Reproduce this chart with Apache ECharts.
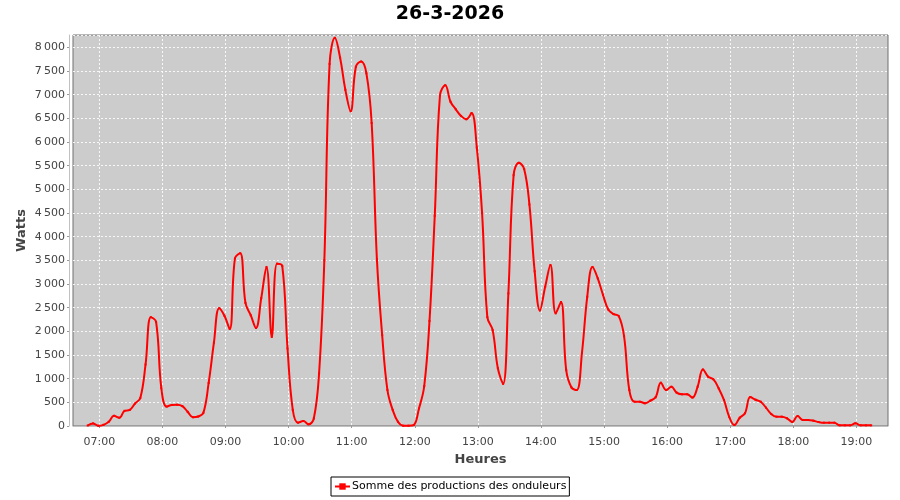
<!DOCTYPE html>
<html><head><meta charset="utf-8">
<script src="https://cdn.jsdelivr.net/npm/echarts@6/dist/echarts.min.js"></script>
<style>html,body{margin:0;padding:0;background:#fff}#c{width:900px;height:500px}</style>
</head><body><div id="c"></div>
<script>
const chartTitle = '26-3-2026';
const seriesName = 'Somme des productions des onduleurs';
const xName = 'Heures';
const yName = 'Watts';
const times = [
'06:49','06:54','06:59','07:04','07:09','07:14','07:19','07:24','07:29','07:34','07:39','07:44','07:49','07:54','07:59',
'08:04','08:09','08:14','08:19','08:24','08:29','08:34','08:39','08:44','08:49','08:54','08:59',
'09:04','09:09','09:14','09:19','09:24','09:29','09:34','09:39','09:44','09:49','09:54','09:59',
'10:04','10:09','10:14','10:19','10:24','10:29','10:34','10:39','10:44','10:49','10:54','10:59',
'11:04','11:09','11:14','11:19','11:24','11:29','11:34','11:39','11:44','11:49','11:54','11:59',
'12:04','12:09','12:14','12:19','12:24','12:29','12:34','12:39','12:44','12:49','12:54','12:59',
'13:04','13:09','13:14','13:19','13:24','13:29','13:34','13:39','13:44','13:49','13:54','13:59',
'14:04','14:09','14:14','14:19','14:24','14:29','14:34','14:39','14:44','14:49','14:54','14:59',
'15:04','15:09','15:14','15:19','15:24','15:29','15:34','15:39','15:44','15:49','15:54','15:59',
'16:04','16:09','16:14','16:19','16:24','16:29','16:34','16:39','16:44','16:49','16:54','16:59',
'17:04','17:09','17:14','17:19','17:24','17:29','17:34','17:39','17:44','17:49','17:54','17:59',
'18:04','18:09','18:14','18:19','18:24','18:29','18:34','18:39','18:44','18:49','18:54','18:59',
'19:04','19:09','19:14'
];
const watts = [
10,55,5,25,90,215,175,320,340,475,590,1300,2300,2200,800,
410,445,450,420,300,185,200,280,910,1760,2490,2330,
2050,3540,3650,2600,2340,2070,2700,3360,1880,3430,3380,1640,
340,70,105,35,160,1110,3500,7650,8200,7780,7100,6650,
7590,7700,7450,6400,3520,1920,760,340,90,7,7,20,
370,845,2220,4440,6990,7200,6850,6690,6550,6480,6610,5880,
4500,2300,2030,1220,890,2800,5300,5560,5430,4680,3270,2440,
2940,3400,2380,2620,1180,815,760,1550,2730,3360,3120,2770,
2460,2365,2320,1900,760,513,513,480,535,605,915,760,
830,705,670,670,600,830,1195,1040,985,795,550,195,
20,175,270,610,555,513,387,253,197,197,162,84,
211,127,127,113,84,70,70,70,14,14,14,56,
14,14,14
];
const hourTicks = ['07:00','08:00','09:00','10:00','11:00','12:00','13:00','14:00','15:00','16:00','17:00','18:00','19:00'];
const xStart = '06:35', xEnd = '19:30';

const toMin = s => +s.slice(0, 2) * 60 + +s.slice(3, 5);
const fmtHM = v => { const h = Math.floor(v / 60), m = Math.round(v - h * 60); return String(h).padStart(2, '0') + ':' + String(m).padStart(2, '0'); };
const fmtW = v => { const s = String(v); return s.length > 3 ? s.slice(0, s.length - 3) + '\u2009' + s.slice(-3) : s; };
const tickVals = hourTicks.map(toMin);
const data = times.map((t, i) => [toMin(t), watts[i]]);

const chart = echarts.init(document.getElementById('c'), null, { renderer: 'canvas' });
const FONT = 'DejaVu Sans';
chart.setOption({
  animation: false,
  backgroundColor: '#ffffff',
  textStyle: { fontFamily: FONT },
  title: {
    text: chartTitle, left: 'center', top: 0,
    textStyle: { fontFamily: FONT, fontSize: 19, fontWeight: 'bold', color: '#000' }
  },
  legend: {
    left: 331, top: 477,
    padding: [4, 3, 4, 3],
    borderColor: '#000', borderWidth: 1, borderRadius: 0,
    itemWidth: 15, itemHeight: 8, itemGap: 4,
    textStyle: { fontFamily: FONT, fontSize: 11, color: '#000', padding: [0, 0, 0, -3] },
    data: [seriesName]
  },
  grid: {
    left: 73, right: 12, top: 35, bottom: 74,
    show: true, backgroundColor: '#cccccc', borderColor: '#707070', borderWidth: 1
  },
  xAxis: {
    type: 'value', min: toMin(xStart), max: toMin(xEnd),
    offset: 4,
    name: xName, nameLocation: 'middle', nameGap: 23, nameMoveOverlap: false,
    nameTextStyle: { fontFamily: FONT, fontSize: 13, fontWeight: 'bold', color: '#444' },
    axisLine: { show: true, lineStyle: { color: '#c0c0c0', width: 1 } },
    axisTick: { show: true, length: 2, customValues: tickVals, lineStyle: { color: '#999' } },
    axisLabel: { customValues: tickVals, formatter: fmtHM, color: '#444', fontSize: 11, fontFamily: FONT, margin: 7 },
    splitLine: { show: true, lineStyle: { color: '#ffffff', type: [2, 2], width: 1, opacity: 0.85 } }
  },
  yAxis: {
    type: 'value', min: 0, max: 8260, interval: 500,
    offset: 4,
    name: yName, nameLocation: 'middle', nameGap: 41, nameMoveOverlap: false,
    nameTextStyle: { fontFamily: FONT, fontSize: 13, fontWeight: 'bold', color: '#444' },
    axisLine: { show: true, lineStyle: { color: '#c0c0c0', width: 1 } },
    axisTick: { show: true, length: 2, lineStyle: { color: '#999' } },
    axisLabel: { formatter: fmtW, color: '#444', fontSize: 11, fontFamily: FONT, margin: 4, showMaxLabel: false },
    splitLine: { show: true, lineStyle: { color: '#ffffff', type: [2, 2], width: 1, opacity: 0.85 } }
  },
  series: [{
    name: seriesName, type: 'line', data: data,
    smooth: 0.4,
    symbol: 'rect', symbolSize: 2, showSymbol: true,
    lineStyle: { color: '#ff0000', width: 2 },
    itemStyle: { color: '#ff0000' },
    emphasis: { disabled: true }
  }]
});
</script></body></html>
